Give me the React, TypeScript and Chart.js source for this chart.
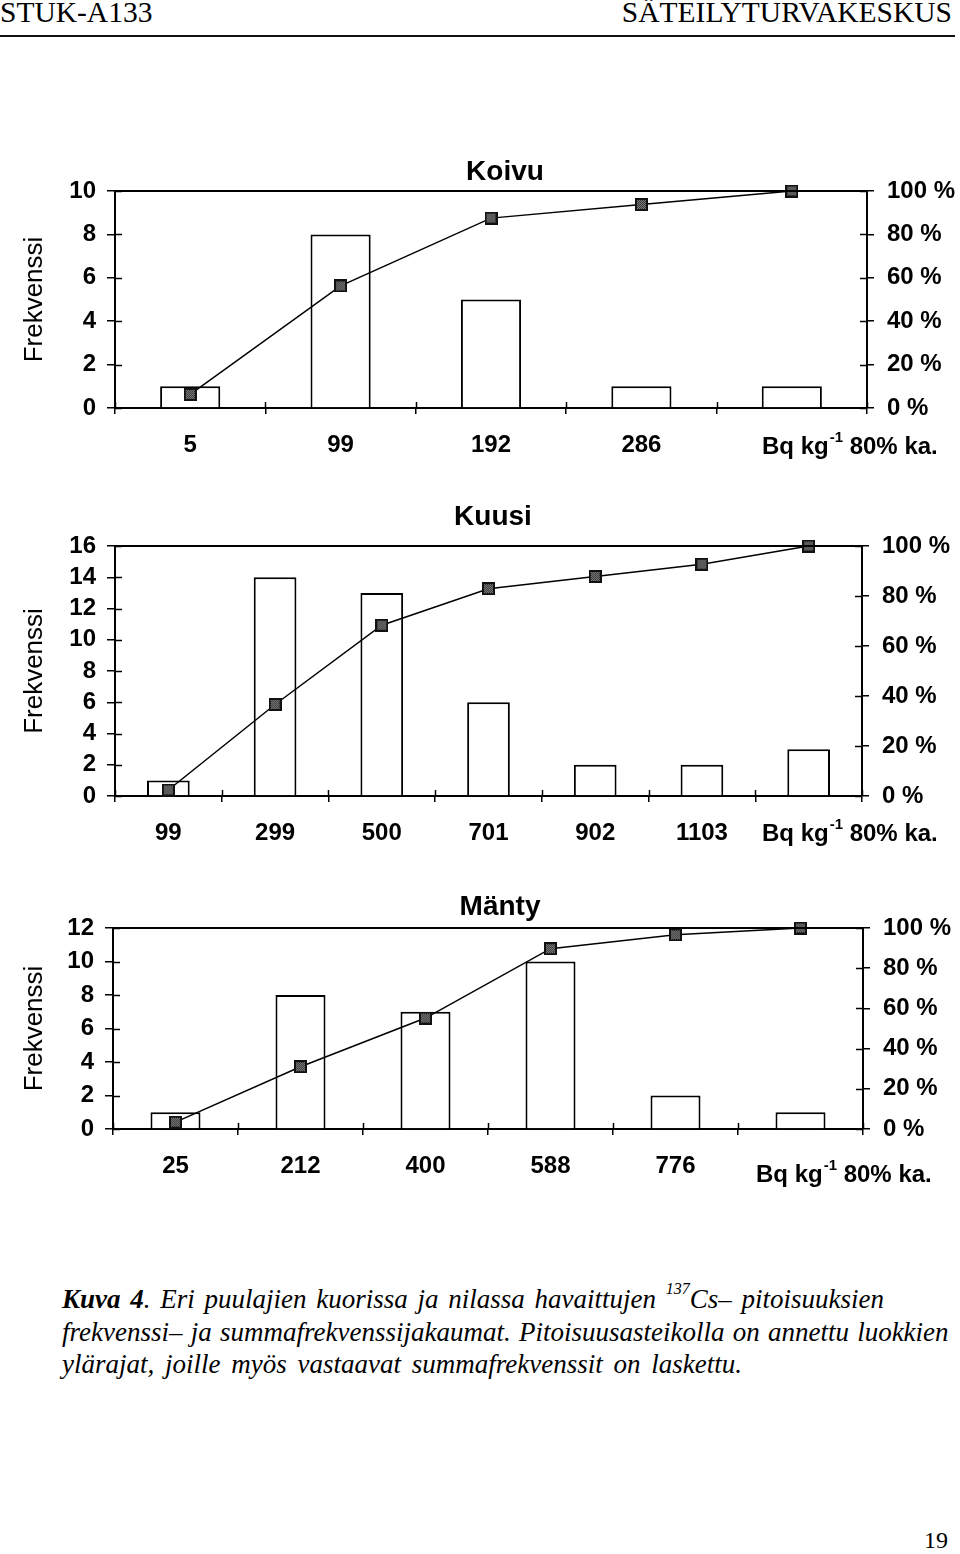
import React, { useEffect, useRef } from 'react';
import { Chart, registerables } from 'chart.js';

Chart.register(...registerables);

const SANS = '"Liberation Sans", Arial, sans-serif';
const SERIF = '"Liberation Serif", "Times New Roman", serif';

// ---- Data ----
const koivuLabels = ['5', '99', '192', '286', ''];
const koivuFreq = [1, 8, 5, 1, 1];
const koivuCum = [6.25, 56.25, 87.5, 93.75, 100];
const koivuMax = 10;

const kuusiLabels = ['99', '299', '500', '701', '902', '1103', ''];
const kuusiFreq = [1, 14, 13, 6, 2, 2, 3];
const kuusiCum = [2.4, 36.6, 68.3, 82.9, 87.8, 92.7, 100];
const kuusiMax = 16;

const mantyLabels = ['25', '212', '400', '588', '776', ''];
const mantyFreq = [1, 8, 7, 10, 2, 1];
const mantyCum = [3.4, 31.0, 55.2, 89.7, 96.6, 100];
const mantyMax = 12;

const freqStep = 2;
const pctTicks = { min: 0, max: 100, step: 20 };

function makeMarker(): HTMLCanvasElement {
  const c = document.createElement('canvas');
  c.width = 13;
  c.height = 13;
  const g = c.getContext('2d')!;
  g.fillStyle = '#111';
  g.fillRect(0, 0, 13, 13);
  for (let y = 2; y < 11; y++) {
    for (let x = 2; x < 11; x++) {
      g.fillStyle = (x + y) % 2 === 0 ? '#8a8a8a' : '#2a2a2a';
      g.fillRect(x, y, 1, 1);
    }
  }
  return c;
}

const decoPlugin = {
  id: 'deco',
  afterDraw(chart: any, _args: any, opts: any) {
    const { ctx, chartArea: a } = chart;
    const xs = chart.scales.x;
    const yl = chart.scales.y;
    const yr = chart.scales.y2;
    ctx.save();
    ctx.strokeStyle = '#000';
    ctx.lineWidth = 2;
    ctx.beginPath();
    ctx.moveTo(a.left - 1, a.top);
    ctx.lineTo(a.right + 1, a.top);
    ctx.stroke();

    // inward halves of the crossing tick marks
    ctx.lineWidth = 1.5;
    ctx.beginPath();
    const n = xs.ticks.length;
    for (let i = 0; i <= n; i++) {
      const px = Math.round(xs.getPixelForValue(i - 0.5)) + 0.5;
      ctx.moveTo(px, a.bottom);
      ctx.lineTo(px, a.bottom - 6);
    }
    yl.ticks.forEach((t: any) => {
      const py = Math.round(yl.getPixelForValue(t.value)) + 0.5;
      ctx.moveTo(a.left, py);
      ctx.lineTo(a.left + 7, py);
    });
    yr.ticks.forEach((t: any) => {
      const py = Math.round(yr.getPixelForValue(t.value)) + 0.5;
      ctx.moveTo(a.right, py);
      ctx.lineTo(a.right - 7, py);
    });
    ctx.stroke();

    ctx.fillStyle = '#000';
    // title
    ctx.font = `bold 28px ${SANS}`;
    ctx.textAlign = 'center';
    ctx.textBaseline = 'middle';
    ctx.fillText(opts.title, opts.titleX, a.top - opts.titleDy);

    // unit label
    ctx.textAlign = 'left';
    const y = a.bottom + opts.unitDy;
    let x = a.right + opts.unitDx;
    ctx.font = `bold 24px ${SANS}`;
    ctx.fillText('Bq kg', x, y);
    x += ctx.measureText('Bq kg').width + 1;
    ctx.font = `bold 15px ${SANS}`;
    ctx.fillText('-1', x, y - 9);
    x += ctx.measureText('-1').width;
    ctx.font = `bold 24px ${SANS}`;
    ctx.fillText(' 80% ka.', x, y);
    ctx.restore();
  },
};

type Props = {
  top: number;
  height: number;
  area: { left: number; right: number; top: number; bottom: number };
  labels: string[];
  freq: number[];
  cum: number[];
  maxFreq: number;
  title: string;
  titleX: number;
  titleDy: number;
  unitDx: number;
  unitDy: number;
};

const W = 960;

function HistChart(p: Props) {
  const ref = useRef<HTMLCanvasElement>(null);
  useEffect(() => {
    const marker = makeMarker();
    const tickFont = { family: SANS, size: 24, weight: 'bold' as const };
    const chart = new Chart(ref.current!, {
      type: 'bar',
      data: {
        labels: p.labels,
        datasets: [
          {
            type: 'line',
            data: p.cum,
            yAxisID: 'y2',
            borderColor: '#000',
            borderWidth: 1.5,
            pointStyle: marker as any,
            pointRadius: 6,
            tension: 0,
            clip: false as any,
            order: 1,
          } as any,
          {
            type: 'bar',
            data: p.freq,
            yAxisID: 'y',
            backgroundColor: '#fff',
            borderColor: '#000',
            borderWidth: 2,
            barPercentage: 0.4,
            categoryPercentage: 1,
            order: 2,
          } as any,
        ],
      },
      options: {
        responsive: false,
        animation: false,
        layout: { padding: { top: p.area.top, left: 0, right: 0, bottom: 0 } },
        plugins: {
          legend: { display: false },
          tooltip: { enabled: false },
          deco: {
            title: p.title,
            titleX: p.titleX,
            titleDy: p.titleDy,
            unitDx: p.unitDx,
            unitDy: p.unitDy,
          },
        } as any,
        scales: {
          x: {
            type: 'category',
            offset: true,
            ticks: { font: tickFont, color: '#000', padding: 17, maxRotation: 0, autoSkip: false },
            grid: { offset: true, drawOnChartArea: false, tickLength: 6, color: '#000', lineWidth: 1.5 },
            border: { display: true, color: '#000', width: 2 },
            afterFit: (s: any) => {
              s.height = p.height - p.area.bottom;
            },
          },
          y: {
            type: 'linear',
            position: 'left',
            min: 0,
            max: p.maxFreq,
            ticks: { stepSize: freqStep, font: tickFont, color: '#000', padding: 11, autoSkip: false },
            grid: { drawOnChartArea: false, tickLength: 8, color: '#000', lineWidth: 1.5 },
            border: { display: true, color: '#000', width: 2 },
            title: {
              display: true,
              text: 'Frekvenssi',
              color: '#000',
              font: { family: SANS, size: 26, weight: 'normal' },
              padding: { top: 19, bottom: 0 },
            },
            afterFit: (s: any) => {
              s.width = p.area.left;
            },
          },
          y2: {
            type: 'linear',
            position: 'right',
            min: pctTicks.min,
            max: pctTicks.max,
            ticks: {
              stepSize: pctTicks.step,
              font: tickFont,
              color: '#000',
              padding: 13,
              autoSkip: false,
              callback: (v: any) => `${v} %`,
            },
            grid: { drawOnChartArea: false, tickLength: 7, color: '#000', lineWidth: 1.5 },
            border: { display: true, color: '#000', width: 2 },
            afterFit: (s: any) => {
              s.width = W - p.area.right;
            },
          },
        } as any,
      },
      plugins: [decoPlugin],
    });
    return () => chart.destroy();
  }, []);
  return (
    <canvas
      ref={ref}
      width={W}
      height={p.height}
      style={{ position: 'absolute', left: 0, top: p.top, width: W, height: p.height, display: 'block' }}
    />
  );
}

export default function App() {
  const serif: React.CSSProperties = { fontFamily: SERIF, position: 'absolute', whiteSpace: 'nowrap', lineHeight: 1, color: '#000' };
  const cap: React.CSSProperties = { ...serif, fontStyle: 'italic', fontSize: 27, left: 62 };
  return (
    <div style={{ position: 'absolute', left: 0, top: 0, width: 960, height: 1554, background: '#fff', overflow: 'hidden' }}>
      <div style={{ ...serif, left: 0, top: -2, fontSize: 29.5 }}>STUK-A133</div>
      <div style={{ ...serif, right: 8, top: -2, fontSize: 29.5 }}>SÄTEILYTURVAKESKUS</div>
      <div style={{ position: 'absolute', left: 0, top: 35, width: 955, height: 2, background: '#111' }} />

      <HistChart
        top={140}
        height={330}
        area={{ left: 115, right: 867, top: 51, bottom: 268 }}
        labels={koivuLabels}
        freq={koivuFreq}
        cum={koivuCum}
        maxFreq={koivuMax}
        title="Koivu"
        titleX={505}
        titleDy={19}
        unitDx={-105}
        unitDy={39}
      />
      <HistChart
        top={490}
        height={370}
        area={{ left: 115, right: 862, top: 56, bottom: 306 }}
        labels={kuusiLabels}
        freq={kuusiFreq}
        cum={kuusiCum}
        maxFreq={kuusiMax}
        title="Kuusi"
        titleX={493}
        titleDy={29}
        unitDx={-100}
        unitDy={38}
      />
      <HistChart
        top={870}
        height={330}
        area={{ left: 113, right: 863, top: 58, bottom: 259 }}
        labels={mantyLabels}
        freq={mantyFreq}
        cum={mantyCum}
        maxFreq={mantyMax}
        title="Mänty"
        titleX={500}
        titleDy={21}
        unitDx={-107}
        unitDy={46}
      />

      <div style={{ ...cap, top: 1286, wordSpacing: 3 }}>
        <b>Kuva 4</b>. Eri puulajien kuorissa ja nilassa havaittujen{' '}
        <sup style={{ fontSize: 16, verticalAlign: 'baseline', position: 'relative', top: -14 }}>137</sup>Cs– pitoisuuksien
      </div>
      <div style={{ ...cap, top: 1319, wordSpacing: 1.5 }}>
        frekvenssi– ja summafrekvenssijakaumat. Pitoisuusasteikolla on annettu luokkien
      </div>
      <div style={{ ...cap, top: 1351, wordSpacing: 4 }}>ylärajat, joille myös vastaavat summafrekvenssit on laskettu.</div>

      <div style={{ ...serif, right: 12, top: 1528, fontSize: 24 }}>19</div>
    </div>
  );
}
